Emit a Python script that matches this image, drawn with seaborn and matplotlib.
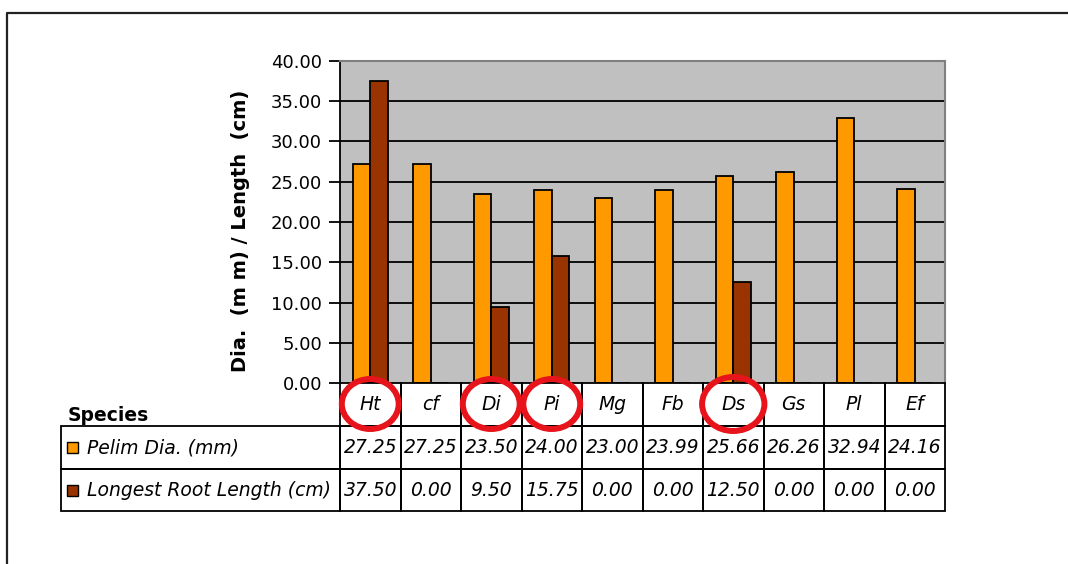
import matplotlib
matplotlib.use("Agg")
import matplotlib.pyplot as plt
import pandas as pd
import seaborn as sns
from matplotlib.lines import Line2D
from matplotlib.patches import Ellipse, Rectangle

species = ["Ht", "cf", "Di", "Pi", "Mg", "Fb", "Ds", "Gs", "Pl", "Ef"]
pelim_dia = [27.25, 27.25, 23.50, 24.00, 23.00, 23.99, 25.66, 26.26, 32.94, 24.16]
root_length = [37.50, 0.00, 9.50, 15.75, 0.00, 0.00, 12.50, 0.00, 0.00, 0.00]
series_names = ["Pelim Dia. (mm)", "Longest Root Length (cm)"]
circled = ["Ht", "Di", "Pi", "Ds"]

COLORS = ["#FF9900", "#993300"]

data = pd.DataFrame({
    "species": species * 2,
    "series": [series_names[0]] * len(species) + [series_names[1]] * len(species),
    "value": pelim_dia + root_length,
})

W, H = 1068, 564
fig = plt.figure(figsize=(W / 100, H / 100), dpi=100)
ax = fig.add_axes([340 / W, 1 - 383 / H, 605 / W, 322 / H])

sns.barplot(data=data, x="species", y="value", hue="series", order=species,
            hue_order=series_names, palette=COLORS, saturation=1, width=0.58, gap=0,
            edgecolor="black", linewidth=1.3, legend=False, ax=ax, zorder=3)

ax.set_facecolor("#C0C0C0")
ax.set_ylim(0, 40)
ax.set_xlim(-0.5, len(species) - 0.5)
ax.set_yticks(range(0, 41, 5))
ax.set_yticklabels([f"{v:.2f}" for v in range(0, 41, 5)], fontsize=13)
ax.tick_params(axis="y", direction="out", length=8, width=1.3, pad=5, colors="black")
ax.set_xticks([])
ax.set_xlabel("")
ax.set_ylabel("")
for y in range(5, 40, 5):
    ax.axhline(y, color="black", lw=1.3, zorder=1)
ax.spines["left"].set_color("black")
ax.spines["left"].set_linewidth(1.3)
for s in ("top", "right"):
    ax.spines[s].set_color("#808080")
    ax.spines[s].set_linewidth(1.5)
ax.spines["bottom"].set_visible(False)

fig.text(240 / W, 1 - 231 / H, "Dia.  (m m) / Length  (cm)", rotation=90,
         ha="center", va="center", fontsize=14, fontweight="bold")

# data table under the chart: x in data units for species columns, y in axes units
trans = ax.get_xaxis_transform()
row_edges = [0, -43 / 322, -86 / 322, -128 / 322]
label_left = (61 - 340) / 605
cell_kw = dict(fill=False, edgecolor="black", lw=1.3, clip_on=False, zorder=5)
text_kw = dict(fontsize=13.5, fontstyle="italic", va="center", clip_on=False, zorder=6)

for j, sp in enumerate(species):
    ax.add_patch(Rectangle((j - 0.5, row_edges[1]), 1, row_edges[0] - row_edges[1],
                           transform=trans, **cell_kw))
    ax.text(j, (row_edges[0] + row_edges[1]) / 2, sp, transform=trans, ha="center", **text_kw)

for i, (name, vals, color) in enumerate(zip(series_names, [pelim_dia, root_length], COLORS), start=1):
    top, bot = row_edges[i], row_edges[i + 1]
    mid = (top + bot) / 2
    ax.add_patch(Rectangle((label_left, bot), -label_left, top - bot,
                           transform=ax.transAxes, **cell_kw))
    ax.add_patch(Rectangle((label_left + 6 / 605, mid - 5.5 / 322), 11 / 605, 11 / 322,
                           transform=ax.transAxes, facecolor=color, edgecolor="black",
                           lw=1.0, clip_on=False, zorder=6))
    ax.text(label_left + 26 / 605, mid, name, transform=ax.transAxes, ha="left", **text_kw)
    for j, v in enumerate(vals):
        ax.add_patch(Rectangle((j - 0.5, bot), 1, top - bot, transform=trans, **cell_kw))
        ax.text(j, mid, f"{v:.2f}", transform=trans, ha="center", **text_kw)

fig.text(68 / W, 1 - 421 / H, "Species", fontsize=13.5, fontweight="bold", va="baseline")

# red circles around some species labels
for sp in circled:
    big = sp == "Ds"
    ax.add_patch(Ellipse((species.index(sp), -21 / 322), 1.03 if big else 0.94,
                         (54 if big else 50) / 322, transform=trans, fill=False,
                         edgecolor="#E8141C", lw=4.3, clip_on=False, zorder=20))

# outer chart frame (partly cut off at right and bottom)
fig.add_artist(Line2D([7 / W, 7 / W, 1], [0, 1 - 13 / H, 1 - 13 / H],
                      transform=fig.transFigure, color="#222222", lw=1.6))

fig.savefig("out.png", dpi=100)
